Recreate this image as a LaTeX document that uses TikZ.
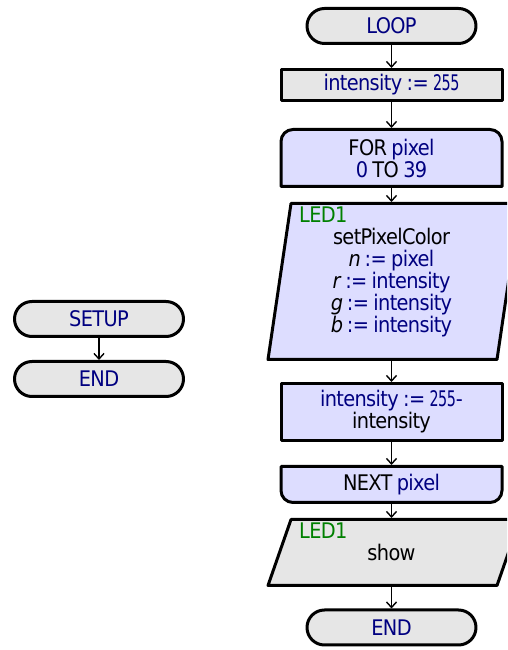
\documentclass[tikz,border=0pt]{standalone}
\usepackage{fontspec}
\setmainfont{DejaVu Sans Condensed}[LetterSpace=-3,WordSpace=0.8]
\usetikzlibrary{shapes.misc,arrows.meta,backgrounds,calc}
\definecolor{navy}{RGB}{0,0,128}
\definecolor{grn}{RGB}{0,128,0}
\definecolor{greyfill}{RGB}{230,230,230}
\definecolor{bluefill}{RGB}{221,221,255}
\newcommand\narrownum[1]{\scalebox{0.74}[1]{#1}}
\begin{document}
\begin{tikzpicture}[x=1pt,y=1pt,font=\fontsize{21.5}{22}\selectfont,
  bord/.style={line width=3pt,draw=black,line join=round},
  term/.style={rounded rectangle,bord,fill=greyfill,minimum width=169pt,minimum height=35pt,inner sep=0pt,outer sep=0pt,text=navy},
  proc/.style={rectangle,bord,fill=greyfill,minimum width=221pt,minimum height=31pt,inner sep=0pt,outer sep=0pt,text=navy,align=center},
  blk/.style={rectangle,draw=none,minimum width=221pt,inner sep=0pt,outer sep=0pt,align=center},
  io/.style={rectangle,draw=none,minimum width=252pt,inner sep=0pt,outer sep=0pt},
  conn/.style={line width=1.4pt,-{Straight Barb[length=5.5pt,width=10pt]},shorten <=1.5pt,shorten >=1.5pt},
  lbl/.style={text=grn,anchor=base west,inner sep=0pt}]
\useasboundingbox (0,0) rectangle (507,650);
\node[term] (loop) at (391.5,624) {LOOP};
\node[proc] (i1) at (391.5,565) {intensity := \narrownum{255}};
\node[blk,minimum height=57pt] (for) at (391.5,492) {FOR \textcolor{navy}{pixel}\\\textcolor{navy}{0} TO \textcolor{navy}{39}};
\node[io,minimum height=156pt] (p1) at (394,368.5) {};
\node[align=center,inner sep=0pt] (t1) at ([xshift=-2.5pt,yshift=-1pt]p1.center) {setPixelColor\\\textit{n}\ \textcolor{navy}{:= pixel}\\\textit{r}\ \textcolor{navy}{:= intensity}\\\textit{g}\ \textcolor{navy}{:= intensity}\\\textit{b}\ \textcolor{navy}{:= intensity}};
\node[lbl] (l1) at ([xshift=31pt,yshift=-19pt]p1.north west) {LED1};
\node[proc,fill=bluefill,minimum height=57pt] (i2) at (391.5,238) {intensity := \narrownum{255}-\\\textcolor{black}{intensity}};
\node[blk,minimum height=36pt] (next) at (391.5,165.5) {NEXT \textcolor{navy}{pixel}};
\node[io,minimum height=66pt] (p2) at (394,97.5) {};
\node[inner sep=0pt] (t2) at ([xshift=-2.5pt]p2.center) {show};
\node[lbl] (l2) at ([xshift=31pt,yshift=-19pt]p2.north west) {LED1};
\node[term] (end) at (391.5,22.5) {END};
\node[term] (setup) at (99,331) {SETUP};
\node[term] (end2) at (99,271) {END};
\begin{scope}[on background layer]
\fill[white] (0,0) rectangle (507,650);
\clip (0,0) rectangle (507,650);
\draw[bord,fill=bluefill] (for.south west) -- ([yshift=-12pt]for.north west) arc[start angle=180,end angle=90,radius=12pt] -- ([xshift=-12pt]for.north east) arc[start angle=90,end angle=0,radius=12pt] -- (for.south east) -- cycle;
\draw[bord,fill=bluefill] (next.north west) -- (next.north east) -- ([yshift=12pt]next.south east) arc[start angle=0,end angle=-90,radius=12pt] -- ([xshift=12pt]next.south west) arc[start angle=270,end angle=180,radius=12pt] -- cycle;
\draw[bord,fill=bluefill] (p1.south west) -- ([xshift=23pt]p1.north west) -- (p1.north east) -- ([xshift=-23pt]p1.south east) -- cycle;
\draw[bord,fill=greyfill] (p2.south west) -- ([xshift=23pt]p2.north west) -- (p2.north east) -- ([xshift=-23pt]p2.south east) -- cycle;
\end{scope}
\draw[conn] (loop.south) -- (i1.north);
\draw[conn] (i1.south) -- (for.north);
\draw[conn] (for.south) -- (for.south |- p1.north);
\draw[conn] (i2.north |- p1.south) -- (i2.north);
\draw[conn] (i2.south) -- (next.north);
\draw[conn] (next.south) -- (next.south |- p2.north);
\draw[conn] (end.north |- p2.south) -- (end.north);
\draw[conn] (setup.south) -- (end2.north);
\end{tikzpicture}
\end{document}
